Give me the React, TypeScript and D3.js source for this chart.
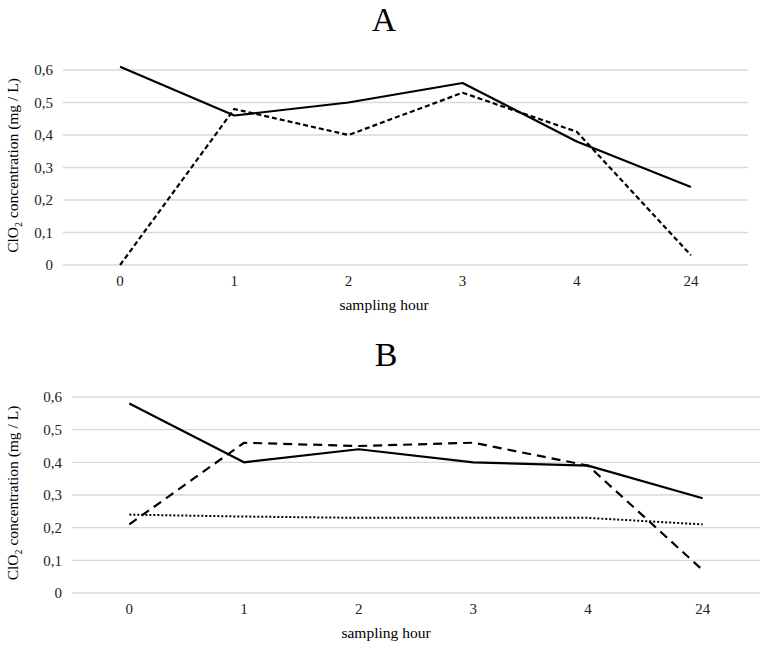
import React from "react";
import * as d3 from "d3";

const hours = ["0", "1", "2", "3", "4", "24"];
const yTicks = [0, 0.1, 0.2, 0.3, 0.4, 0.5, 0.6];

const aSolid = [0.61, 0.46, 0.5, 0.56, 0.38, 0.24];
const aDashed = [0.0, 0.48, 0.4, 0.53, 0.41, 0.03];

const bSolid = [0.58, 0.4, 0.44, 0.4, 0.39, 0.29];
const bDashed = [0.21, 0.46, 0.45, 0.46, 0.39, 0.07];
const bDotted = [0.24, 0.234, 0.23, 0.23, 0.23, 0.21];

const FONT = "Liberation Serif, Times New Roman, serif";

type Series = { values: number[]; dash: string; width: number };

function Panel({
  title,
  left,
  right,
  y0,
  y6,
  series,
  titleY,
  tickY,
  xLabelY,
  centerX,
}: {
  title: string;
  left: number;
  right: number;
  y0: number;
  y6: number;
  series: Series[];
  titleY: number;
  tickY: number;
  xLabelY: number;
  centerX: number;
}) {
  const x = d3.scaleBand<string>().domain(hours).range([left, right]);
  const y = d3.scaleLinear().domain([0, 0.6]).range([y0, y6]);
  const cx = (h: string) => (x(h) as number) + x.bandwidth() / 2;
  const line = d3
    .line<number>()
    .x((_, i) => cx(hours[i]))
    .y((d) => y(d));
  const fmt = (v: number) => (v === 0 ? "0" : v.toFixed(1).replace(".", ","));
  return (
    <g fontFamily={FONT}>
      <text x={centerX} y={titleY} textAnchor="middle" fontSize={34} fill="#000">
        {title}
      </text>
      {yTicks.map((t) => (
        <g key={t}>
          <line x1={left} x2={right} y1={y(t)} y2={y(t)} stroke="#d9d9d9" strokeWidth={1.3} />
          <text x={left - 10} y={y(t)} dy="0.35em" textAnchor="end" fontSize={15} fill="#222">
            {fmt(t)}
          </text>
        </g>
      ))}
      {hours.map((h) => (
        <text key={h} x={cx(h)} y={tickY} textAnchor="middle" fontSize={15} fill="#222">
          {h}
        </text>
      ))}
      <text x={centerX} y={xLabelY} textAnchor="middle" fontSize={15.5} fill="#000">
        sampling hour
      </text>
      <text
        transform={`translate(${13},${(y0 + y6) / 2 - 2}) rotate(-90)`}
        textAnchor="middle"
        dy="0.35em"
        fontSize={15.5}
        fill="#000"
      >
        ClO
        <tspan fontSize={10} dy={4}>2</tspan>
        <tspan dy={-4}> concentration (mg / L)</tspan>
      </text>
      {series.map((s, i) => (
        <path
          key={i}
          d={line(s.values) || ""}
          fill="none"
          stroke="#000"
          strokeWidth={s.width}
          strokeDasharray={s.dash}
          strokeLinejoin="round"
        />
      ))}
    </g>
  );
}

export default function App() {
  return (
    <svg
      width={764}
      height={645}
      style={{ position: "absolute", left: 0, top: 0, background: "#fff" }}
    >
      <rect width={764} height={645} fill="#fff" />
      <Panel
        title="A"
        left={63}
        right={748}
        y0={265}
        y6={70}
        centerX={384}
        titleY={31}
        tickY={286}
        xLabelY={310}
        series={[
          { values: aSolid, dash: "", width: 2.2 },
          { values: aDashed, dash: "5,3", width: 2.2 },
        ]}
      />
      <Panel
        title="B"
        left={72}
        right={760}
        y0={593}
        y6={397}
        centerX={386}
        titleY={366}
        tickY={614}
        xLabelY={638}
        series={[
          { values: bSolid, dash: "", width: 2.2 },
          { values: bDashed, dash: "9,6", width: 2.2 },
          { values: bDotted, dash: "2,2", width: 2 },
        ]}
      />
    </svg>
  );
}
